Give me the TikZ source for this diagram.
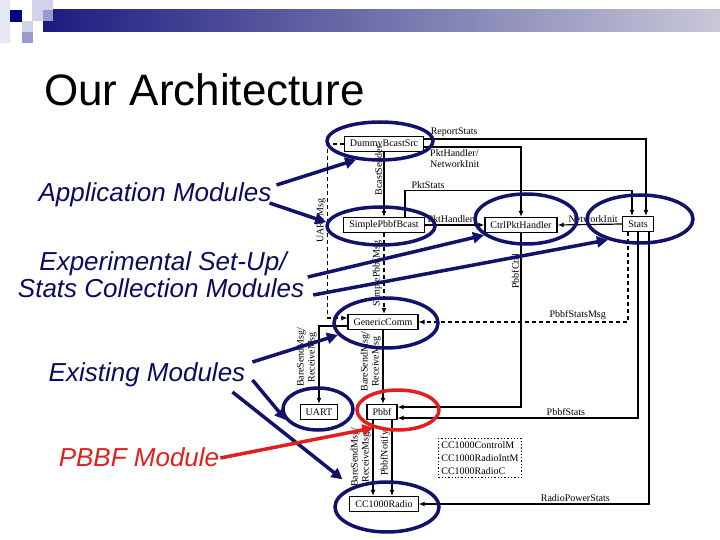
\documentclass[tikz,border=0pt]{standalone}
\usepackage{fontspec}
\setmainfont{Liberation Serif}
\newfontfamily\slidefont{Liberation Sans}
\usepackage{tikz}
\usetikzlibrary{arrows.meta,positioning,shapes.geometric}
\definecolor{slidenavy}{HTML}{12126B}
\definecolor{labelnavy}{HTML}{0B0B5C}
\definecolor{slidered}{HTML}{E0201C}
\definecolor{barleft}{HTML}{1C1C80}
\definecolor{barright}{HTML}{C8C8D8}
\definecolor{sqnavy}{HTML}{000080}
\definecolor{sqmid}{HTML}{9A9ACE}
\definecolor{sqlight}{HTML}{D2D2EC}
\definecolor{sqpale}{HTML}{E6E6F4}

\begin{document}
\begin{tikzpicture}[
    x=1pt, y=-1pt,
    module/.style={
        draw,
        line width=1.2pt,
        fill=white,
        inner xsep=5.5pt,
        inner ysep=0pt,
        minimum height=15pt,
        font=\fontsize{10}{12}\selectfont
    },
    wire/.style={line width=1.2pt, -{Latex[length=6pt,width=5pt]}},
    msgwire/.style={wire, dash pattern=on 4pt off 3pt},
    edgelabel/.style={font=\fontsize{10}{11}\selectfont, inner sep=1.5pt},
    ring/.style={ellipse, draw=slidenavy, line width=3.5pt, inner sep=0pt},
    pointer/.style={draw=slidenavy, line width=3.5pt, -{Triangle[length=11pt,width=11pt]}},
    layer/.style={font=\slidefont\itshape\fontsize{26}{29}\selectfont, text=labelnavy, inner sep=0pt, anchor=base}
]
    \useasboundingbox (0,0) rectangle (720,540);

    \shade[left color=barleft, right color=barright] (43,10) rectangle (720,32);
    \fill[sqpale] (0,0) rectangle (10,43);
    \fill[sqlight] (32,0) rectangle (53,10);
    \fill[sqlight] (32,10) rectangle (43,21);
    \fill[sqmid] (43,10) rectangle (53,21);
    \fill[sqnavy] (10,10) rectangle (22,22);
    \fill[sqlight] (22,21) rectangle (33,32);
    \fill[sqmid] (22,32) rectangle (33,43);

    \node[anchor=base west, inner sep=0pt, font=\slidefont\fontsize{44}{48}\selectfont] (title) at (44,106) {Our Architecture};

    \node[layer] (appl) at (155,202) {Application Modules};
    \node[layer] (experA) at (163,270) {Experimental Set-Up/};
    \node[layer] (experB) at (161,297) {Stats Collection Modules};
    \node[layer] (exist) at (147,381) {Existing Modules};
    \node[layer, text=slidered] (pbbflab) at (139,466) {PBBF Module};

    \node[module] (dummy) at (384,144) {DummyBcastSrc};
    \node[module] (simple) at (384,225) {SimplePbbfBcast};
    \node[module] (ctrl) at (521,225) {CtrlPktHandler};
    \node[module] (stats) at (638,224) {Stats};
    \node[module] (generic) at (383,322) {GenericComm};
    \node[module] (uart) at (319,412) {UART};
    \node[module] (pbbf) at (382,412) {Pbbf};
    \node[module] (radio) at (384,504) {CC1000Radio};
    \node[draw, dotted, line width=1.3pt, align=left, inner sep=3pt,
        font=\fontsize{10}{13}\selectfont] (radiolib) at (480,458)
        {CC1000ControlM\\CC1000RadioIntM\\CC1000RadioC};

    \draw[wire] ([yshift=5pt]dummy.east) -| node[edgelabel, above right, pos=0.01] {ReportStats} ([xshift=8pt]stats.north);
    \draw[wire] ([yshift=-3pt]dummy.east) -| node[edgelabel, below right, pos=0.02, align=left] {PktHandler/\\NetworkInit} (ctrl.north);
    \draw[wire] (dummy.south) -- node[edgelabel, rotate=90, anchor=south, pos=0.28] {BcastSender} (simple.north);
    \draw[wire] ([xshift=21pt]simple.north) -- ++(0,-26) -| node[edgelabel, above right, pos=0.01] {PktStats} ([xshift=-6pt]stats.north);
    \draw[wire] (simple.east) -- node[edgelabel, above, pos=0.43] {PktHandler} (ctrl.west);
    \draw[wire] (stats.west) -- node[edgelabel, above, pos=0.45] {NetworkInit} (ctrl.east);
    \draw[msgwire] (dummy.west) -- ++(-16,0) |- node[edgelabel, rotate=90, anchor=south, pos=0.22] {UARTMsg} ([yshift=4pt]generic.west);
    \draw[msgwire] (simple.south) -- node[edgelabel, rotate=90, anchor=south] {SimplePbbfMsg} (simple.south |- generic.north);
    \draw[msgwire] ([xshift=-10pt]stats.south) |- node[edgelabel, above, pos=0.62] {PbbfStatsMsg} (generic.east);
    \draw[wire] (ctrl.south) |- node[edgelabel, rotate=90, anchor=south, pos=0.11] {PbbfCtrl} ([yshift=5pt]pbbf.east);
    \draw[wire] (stats.south) |- node[edgelabel, above, pos=0.65] {PbbfStats} ([yshift=-6pt]pbbf.east);
    \draw[wire] ([xshift=11pt]stats.south) |- node[edgelabel, above, pos=0.66] {RadioPowerStats} (radio.east);
    \draw[wire] ([yshift=-4pt]generic.west) -| node[edgelabel, rotate=90, anchor=south, align=center, pos=0.7] {BareSendMsg/\\ReceiveMsg} (uart.north);
    \draw[wire] (generic.south) -- node[edgelabel, rotate=90, anchor=south, align=center, pos=0.43] {BareSendMsg/\\ReceiveMsg} (generic.south |- pbbf.north);
    \draw[wire] ([xshift=-9pt]pbbf.south) -- node[edgelabel, rotate=90, anchor=south, align=center, pos=0.49] {BareSendMsg/\\ReceiveMsg} ([xshift=-9pt]pbbf.south |- radio.north);
    \draw[wire] ([xshift=10pt]pbbf.south) -- node[edgelabel, rotate=90, anchor=south, pos=0.44] {PbbfNotify} ([xshift=10pt]pbbf.south |- radio.north);

    \node[ring, minimum width=106pt, minimum height=38pt] (ringdummy) at (380,141) {};
    \node[ring, minimum width=108pt, minimum height=38pt] (ringsimple) at (381,226) {};
    \node[ring, minimum width=102pt, minimum height=50pt] (ringctrl) at (526,219) {};
    \node[ring, minimum width=106pt, minimum height=48pt] (ringstats) at (640,219) {};
    \node[ring, minimum width=104pt, minimum height=50pt] (ringgeneric) at (386,323) {};
    \node[ring, minimum width=70pt, minimum height=42pt] (ringuart) at (318,409) {};
    \node[ring, draw=slidered, minimum width=82pt, minimum height=40pt] (ringpbbf) at (398,410) {};
    \node[ring, minimum width=104pt, minimum height=50pt] (ringradio) at (387,507) {};

    \draw[pointer] ([xshift=5pt,yshift=17pt]appl.base east) -- (ringdummy.218);
    \draw[pointer] ([xshift=-2pt,yshift=-1pt]appl.base east) -- (ringsimple.176);
    \draw[pointer] ([xshift=21pt,yshift=-7pt]experA.base east) -- (ringctrl.201);
    \draw[pointer] ([xshift=9pt,yshift=2pt]experB.base east) -- (ringstats.213);
    \draw[pointer] ([xshift=7pt,yshift=19pt]exist.base east) -- (ringgeneric.194);
    \draw[pointer] ([xshift=7pt,yshift=1pt]exist.base east) -- (ringuart.199);
    \draw[pointer, shorten >=12pt] ([xshift=-13pt,yshift=-11pt]exist.base east) -- (ringradio.150);
    \draw[pointer, draw=slidered] ([xshift=1pt,yshift=8pt]pbbflab.base east) -- (ringpbbf.216);
\end{tikzpicture}
\end{document}
